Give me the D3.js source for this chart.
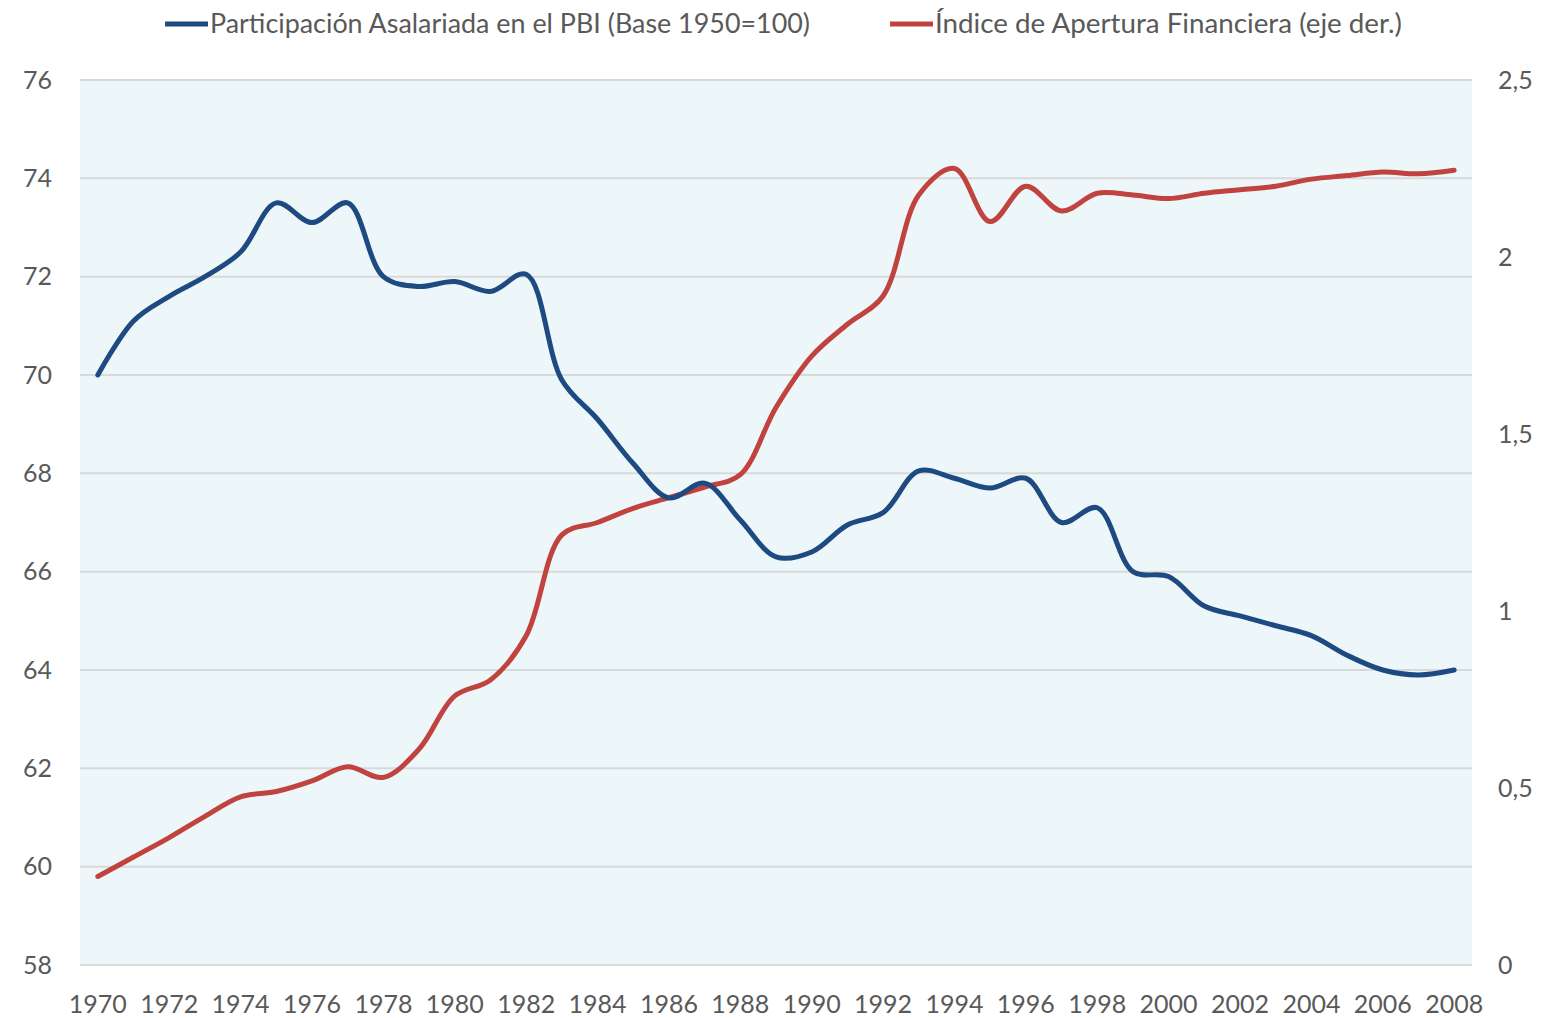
<!DOCTYPE html>
<html>
<head>
<meta charset="utf-8">
<script src="https://cdn.jsdelivr.net/npm/d3@7"></script>
<style>
  body { margin: 0; background: #fff; }
  svg { display: block; font-family: Lato, "Open Sans", sans-serif; }
</style>
</head>
<body>
<div id="chart"></div>
<script>
const years = d3.range(1970, 2009);

// Participación Asalariada en el PBI (eje izq.)
const salaryShare = [
  70.0, 71.1, 71.6, 72.0, 72.5, 73.5, 73.1, 73.5, 72.0, 71.8,
  71.9, 71.7, 72.05, 69.9, 69.1, 68.2, 67.5, 67.8, 67.05, 66.3,
  66.4, 66.95, 67.2, 68.05, 67.9, 67.7, 67.9, 67.0, 67.3, 66.0,
  65.9, 65.3, 65.1, 64.9, 64.7, 64.3, 64.0, 63.9, 64.0
];

// Índice de Apertura Financiera (eje der.)
const openness = [
  0.25, 0.305, 0.36, 0.42, 0.475, 0.49, 0.52, 0.56, 0.53, 0.61,
  0.76, 0.805, 0.93, 1.215, 1.25, 1.29, 1.32, 1.35, 1.385, 1.575,
  1.72, 1.81, 1.89, 2.175, 2.25, 2.1, 2.2, 2.13, 2.18, 2.175,
  2.165, 2.18, 2.19, 2.2, 2.22, 2.23, 2.24, 2.235, 2.245
];

const leftTicks = [58, 60, 62, 64, 66, 68, 70, 72, 74, 76];
const rightTicks = [0, 0.5, 1, 1.5, 2, 2.5];
const xTickYears = years.filter((y) => (y - 1970) % 2 === 0);

const legendItems = [
  { label: "Participación Asalariada en el PBI (Base 1950=100)", color: "#1d4a80", x: 165, len: 600 },
  { label: "Índice de Apertura Financiera (eje der.)", color: "#c0433f", x: 890, len: 467 }
];

const svgWidth = 1546;
const svgHeight = 1018;
const margin = { top: 80, right: 74, bottom: 53, left: 80 };
const width = svgWidth - margin.left - margin.right;
const height = svgHeight - margin.top - margin.bottom;

const svg = d3
  .select("#chart")
  .append("svg")
  .attr("width", svgWidth)
  .attr("height", svgHeight);

const g = svg.append("g").attr("transform", `translate(${margin.left},${margin.top})`);

// plot area background
g.append("rect")
  .attr("width", width)
  .attr("height", height)
  .attr("fill", "#edf6f9");

const x = d3.scaleBand().domain(years).range([0, width]);
const xc = (yr) => x(yr) + x.bandwidth() / 2;

const yLeft = d3.scaleLinear().domain([58, 76]).range([height, 0]);
const yRight = d3.scaleLinear().domain([0, 2.5]).range([height, 0]);

// gridlines
g.selectAll(".grid")
  .data(leftTicks)
  .join("line")
  .attr("class", "grid")
  .attr("x1", 0)
  .attr("x2", width)
  .attr("y1", (d) => yLeft(d))
  .attr("y2", (d) => yLeft(d))
  .attr("stroke", "#d9d9d9")
  .attr("stroke-width", 2);

// left axis labels
g.selectAll(".ltick")
  .data(leftTicks)
  .join("text")
  .attr("class", "ltick")
  .attr("x", -28)
  .attr("y", (d) => yLeft(d))
  .attr("dy", "0.35em")
  .attr("text-anchor", "end")
  .attr("font-size", 25)
  .attr("fill", "#595959")
  .text((d) => d);

// right axis labels
const commaFmt = (d) => String(d).replace(".", ",");
g.selectAll(".rtick")
  .data(rightTicks)
  .join("text")
  .attr("class", "rtick")
  .attr("x", width + 26)
  .attr("y", (d) => yRight(d))
  .attr("dy", "0.35em")
  .attr("text-anchor", "start")
  .attr("font-size", 25)
  .attr("fill", "#595959")
  .text(commaFmt);

// x axis labels
g.selectAll(".xtick")
  .data(xTickYears)
  .join("text")
  .attr("class", "xtick")
  .attr("x", (d) => xc(d))
  .attr("y", height + 48)
  .attr("text-anchor", "middle")
  .attr("font-size", 25)
  .attr("fill", "#595959")
  .text((d) => d);

// lines
const lineLeft = d3
  .line()
  .x((d, i) => xc(years[i]))
  .y((d) => yLeft(d))
  .curve(d3.curveCatmullRom.alpha(0.5));

const lineRight = d3
  .line()
  .x((d, i) => xc(years[i]))
  .y((d) => yRight(d))
  .curve(d3.curveCatmullRom.alpha(0.5));

g.append("path")
  .datum(openness)
  .attr("fill", "none")
  .attr("stroke", legendItems[1].color)
  .attr("stroke-width", 5)
  .attr("stroke-linejoin", "round")
  .attr("stroke-linecap", "round")
  .attr("d", lineRight);

g.append("path")
  .datum(salaryShare)
  .attr("fill", "none")
  .attr("stroke", legendItems[0].color)
  .attr("stroke-width", 5)
  .attr("stroke-linejoin", "round")
  .attr("stroke-linecap", "round")
  .attr("d", lineLeft);

// legend
const legend = svg
  .selectAll(".legend")
  .data(legendItems)
  .join("g")
  .attr("class", "legend")
  .attr("transform", (d) => `translate(${d.x}, 24)`);

legend
  .append("line")
  .attr("x1", 0)
  .attr("x2", 43)
  .attr("stroke", (d) => d.color)
  .attr("stroke-width", 5);

legend
  .append("text")
  .attr("x", 45)
  .attr("dy", "0.35em")
  .attr("font-size", 26)
  .attr("textLength", (d) => d.len)
  .attr("lengthAdjust", "spacingAndGlyphs")
  .attr("fill", "#595959")
  .text((d) => d.label);
</script>
</body>
</html>
